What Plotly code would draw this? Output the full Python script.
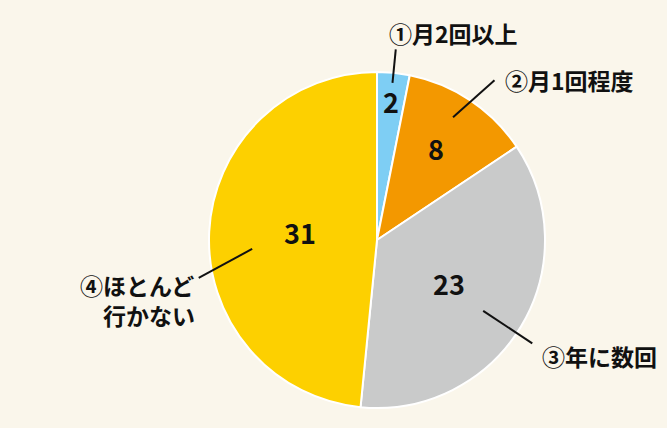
import math
import plotly.graph_objects as go

# ---- data ----
categories = ["①月2回以上", "②月1回程度", "③年に数回", "④ほとんど<br>\u3000行かない"]
values = [2, 8, 23, 31]
colors = ["#7ECEF4", "#F39800", "#C9CACA", "#FDD000"]

# ---- layout constants (pixels) ----
W, H = 667, 428
CX, CY, R = 377, 240, 168
BG = "#FAF6EB"
FONT = "Noto Sans CJK JP"

# per-slice styling
num_r = [0.83, 0.65, 0.50, 0.46]
num_da = [0.0, -1.0, 0.3, 3.0]
lead_in = [(0.0, 0.94), (-2.0, 0.86), (2.8, 0.76), (-6.9, 0.745)]
lead_out = [(0.0, 1.14), (2.6, 1.18), (2.7, 1.11), (-14.8, 1.085)]
lab_anchor = [("left", "middle", -9, 16), ("left", "middle", 8, 0),
              ("left", "middle", 8, -13), ("right", "middle", -2, -22)]


def px(a_deg, rf):
    a = math.radians(a_deg)
    return CX + R * rf * math.sin(a), CY - R * rf * math.cos(a)


def paper(x, y):
    return x / W, 1 - y / H


fig = go.Figure()
fig.add_trace(go.Pie(
    labels=categories, values=values, sort=False, direction="clockwise",
    rotation=0,
    marker=dict(colors=colors, line=dict(color="white", width=2)),
    textinfo="none", hoverinfo="skip", showlegend=False,
    domain=dict(x=[(CX - R) / W, (CX + R) / W], y=[1 - (CY + R) / H, 1 - (CY - R) / H]),
))

total = sum(values)
cum = 0
annotations = []
shapes = []
for i, v in enumerate(values):
    mid = (cum + v / 2) / total * 360
    cum += v
    nx, ny = px(mid + num_da[i], num_r[i])
    x, y = paper(nx, ny)
    annotations.append(dict(x=x, y=y, xref="paper", yref="paper", text=str(v),
                            showarrow=False, xanchor="center", yanchor="middle",
                            font=dict(family=FONT, size=27, color="#111111", weight="bold")))
    x0, y0 = px(mid + lead_in[i][0], lead_in[i][1])
    x1, y1 = px(mid + lead_out[i][0], lead_out[i][1])
    a0, b0 = paper(x0, y0)
    a1, b1 = paper(x1, y1)
    shapes.append(dict(type="line", xref="paper", yref="paper", x0=a0, y0=b0, x1=a1, y1=b1,
                       line=dict(color="#111111", width=2)))
    xa, ya, xs, ys = lab_anchor[i]
    annotations.append(dict(x=a1, y=b1, xref="paper", yref="paper", text=categories[i],
                            showarrow=False, xanchor=xa, yanchor=ya, xshift=xs, yshift=ys,
                            align="left",
                            font=dict(family=FONT, size=23, color="#111111", weight="bold")))

fig.update_layout(
    width=W, height=H, margin=dict(l=0, r=0, t=0, b=0),
    paper_bgcolor=BG, plot_bgcolor=BG,
    annotations=annotations, shapes=shapes,
)
fig.write_html("out.html", config={"displayModeBar": False},
               post_script="document.body.style.margin='0';document.body.style.background='%s';" % BG)
